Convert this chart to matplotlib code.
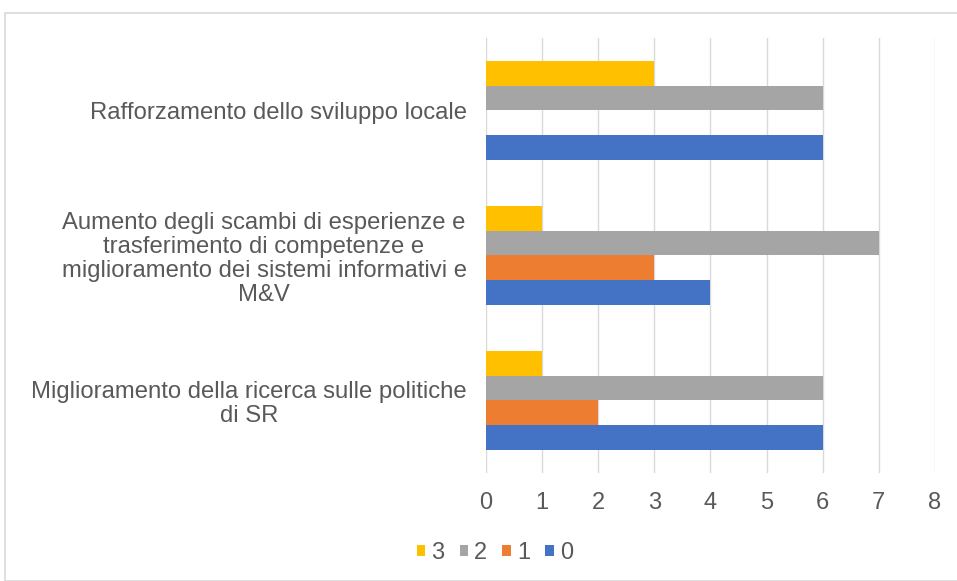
import matplotlib
matplotlib.use("Agg")
import matplotlib.pyplot as plt
import numpy as np
from matplotlib.patches import Rectangle

plt.rcParams['font.family'] = ['Liberation Sans', 'DejaVu Sans']

# dati (categorie dal basso verso l'alto)
categories = [
    "Miglioramento della ricerca sulle politiche\ndi SR",
    "Aumento degli scambi di esperienze e\ntrasferimento di competenze e\nmiglioramento dei sistemi informativi e\nM&V",
    "Rafforzamento dello sviluppo locale",
]
series_names = ["0", "1", "2", "3"]
values_0 = [6, 4, 6]
values_1 = [2, 3, 0]
values_2 = [6, 7, 6]
values_3 = [1, 1, 3]
colors = ["#4472C4", "#ED7D31", "#A5A5A5", "#FFC000"]
x_ticks = [0, 1, 2, 3, 4, 5, 6, 7, 8]

text_col = "#595959"
fig = plt.figure(figsize=(9.57, 5.81), dpi=100)
ax = fig.add_axes([0.5078, 0.1859, 0.4692, 0.7487])

y = np.arange(len(categories))
h = 0.172
all_vals = [values_0, values_1, values_2, values_3]
for i, (vals, name, col) in enumerate(zip(all_vals, series_names, colors)):
    off = (i - 1.5) * h
    ax.barh(y + off, vals, height=h, color=col, label=name, zorder=3)

ax.set_xlim(0, 8)
ax.set_ylim(-0.5, 2.5)
ax.set_xticks(x_ticks)
ax.set_yticks(y)
ax.set_yticklabels(categories, fontsize=17.2, color=text_col, linespacing=1.12,
                   ha="right", multialignment="center")
ax.tick_params(axis="x", labelsize=17, colors=text_col, length=0, pad=14)
ax.tick_params(axis="y", length=0, pad=14)
ax.grid(axis="x", color="#D9D9D9", linewidth=1, zorder=0)
for s in ax.spines.values():
    s.set_visible(False)

handles, labels = ax.get_legend_handles_labels()
fig.legend(handles[::-1], labels[::-1], loc="center", bbox_to_anchor=(0.517, 0.048),
           ncol=4, frameon=False, fontsize=17, labelcolor=text_col,
           handlelength=0.36, handleheight=0.36, handletextpad=0.25, columnspacing=0.65)

fig.patches.append(Rectangle((5 / 957, 0), 1, 1 - 13 / 581, transform=fig.transFigure,
                             fill=False, edgecolor="#D9D9D9", linewidth=1.2))

fig.savefig("out.png", dpi=100)
